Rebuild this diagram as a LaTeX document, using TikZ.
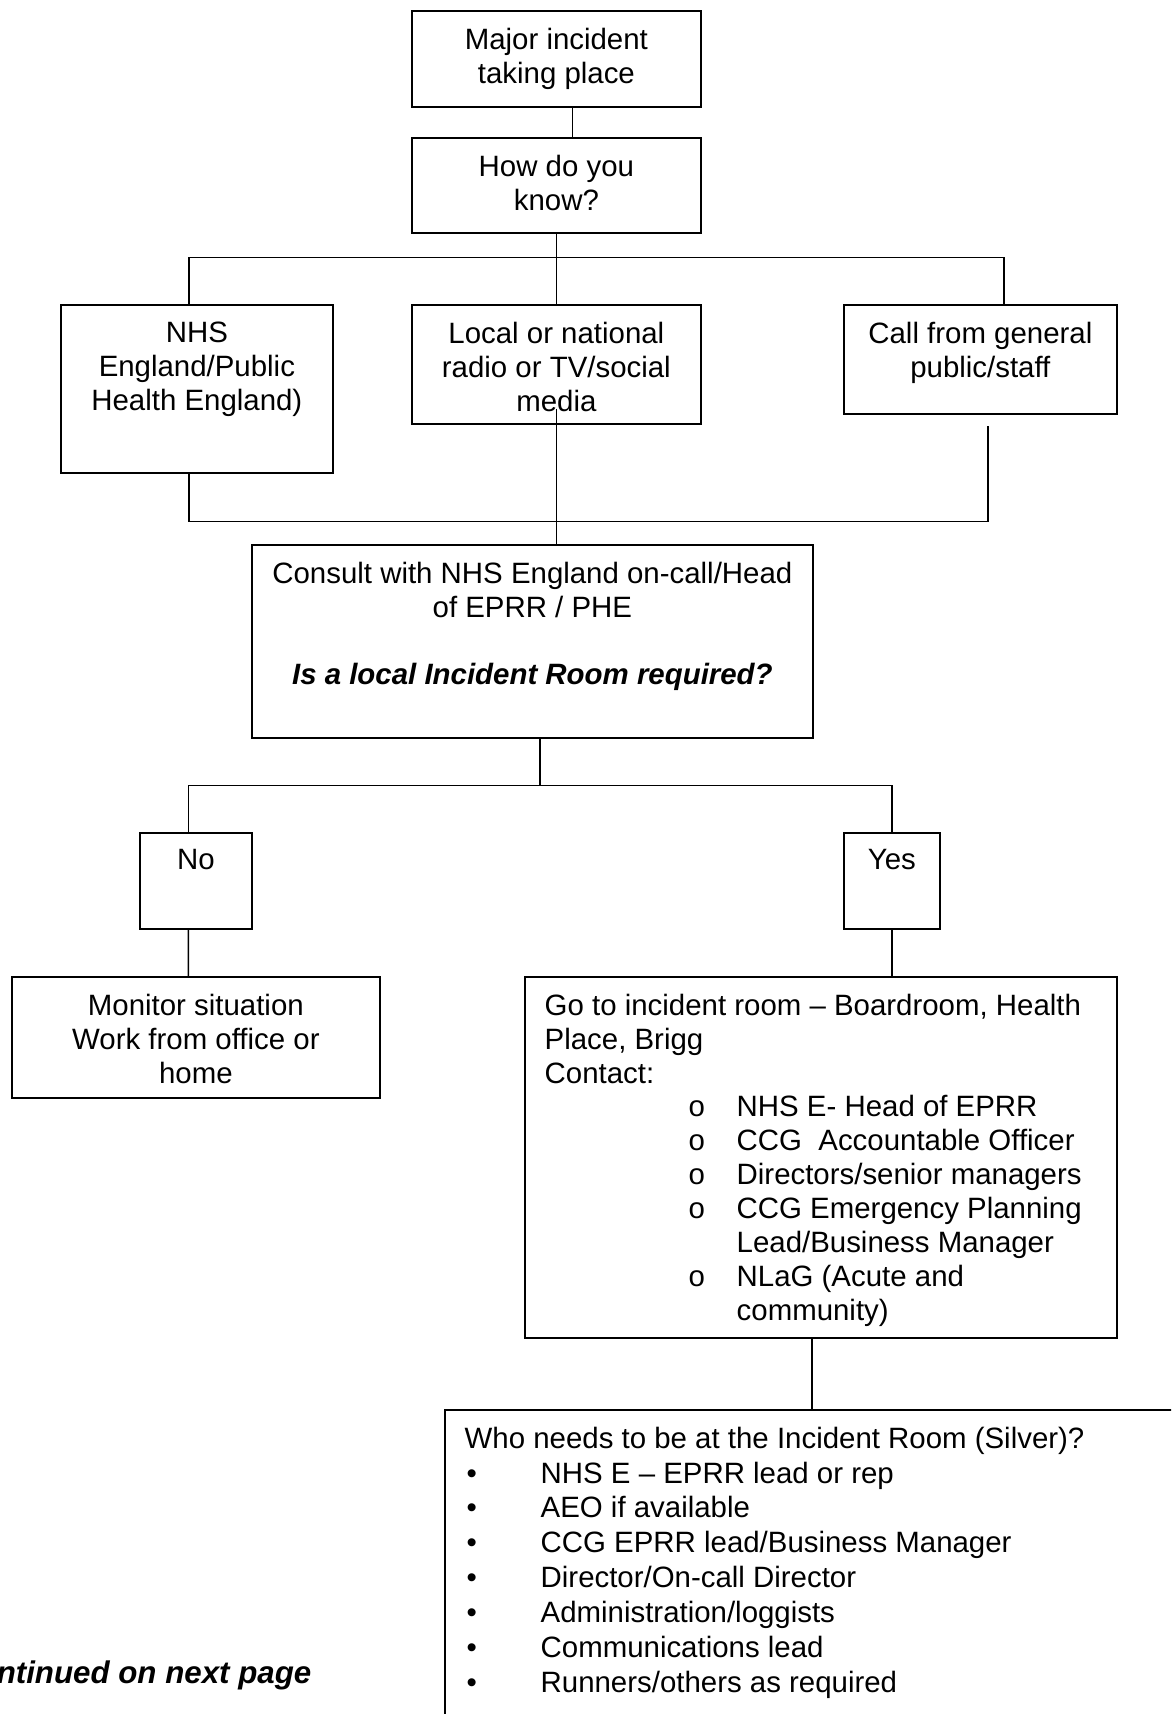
\documentclass[tikz,border=0pt]{standalone}
\usepackage{fontspec}
\setmainfont{Liberation Sans}

\tikzset{
  box/.style={draw, line width=0.5pt, anchor=north west, inner sep=0pt},
  txt/.style={anchor=north, inner sep=0pt, align=center},
  ltxt/.style={anchor=north west, inner sep=0pt, align=left},
  link/.style={line width=0.4pt},
}

\begin{document}
\begin{tikzpicture}[every node/.style={font=\fontsize{8.37}{9.67}\selectfont}]
				\path[use as bounding box, clip] (0,0) rectangle (11.71,-17.14);
				
				% Inizio: incidente e fonte
				\node[box, minimum width=2.89cm, minimum height=0.96cm] (major) at (4.11,-0.10) {};
				\node[txt] (major-t) at ([yshift=-0.17cm]major.north) {Major incident\\taking place};
				\node[box, minimum width=2.89cm, minimum height=0.95cm] (how) at (4.11,-1.37) {};
				\node[txt] (how-t) at ([yshift=-0.17cm]how.north) {How do you\\know?};
				
				% Tre canali
				\node[box, minimum width=2.72cm, minimum height=1.68cm] (nhs) at (0.60,-3.04) {};
				\node[txt] (nhs-t) at ([yshift=-0.17cm]nhs.north) {NHS\\England/Public\\Health England)};
				\node[box, minimum width=2.89cm, minimum height=1.19cm] (local) at (4.11,-3.04) {};
				\node[txt] (local-t) at ([yshift=-0.17cm]local.north) {Local or national\\radio or TV/social\\media};
				\node[box, minimum width=2.73cm, minimum height=1.09cm] (call) at (8.43,-3.04) {};
				\node[txt] (call-t) at ([yshift=-0.17cm]call.north) {Call from general\\public/staff};
				
				% Consultazione
				\node[box, minimum width=5.61cm, minimum height=1.93cm] (consult) at (2.51,-5.44) {};
				\node[txt] (consult-t) at ([yshift=-0.17cm]consult.north) {Consult with NHS England on-call/Head\\of EPRR / PHE\\[9.67pt]{\bfseries\itshape Is a local Incident Room required?}};
				
				% No / Yes
				\node[box, minimum width=1.12cm, minimum height=0.96cm] (no) at (1.39,-8.32) {};
				\node[txt] (no-t) at ([yshift=-0.17cm]no.north) {No};
				\node[box, minimum width=0.96cm, minimum height=0.96cm] (yes) at (8.43,-8.32) {};
				\node[txt] (yes-t) at ([yshift=-0.17cm]yes.north) {Yes};
				
				\node[box, minimum width=3.68cm, minimum height=1.21cm] (monitor) at (0.11,-9.76) {};
				\node[txt] (monitor-t) at ([yshift=-0.17cm]monitor.north) {Monitor situation\\Work from office or\\home};
				
				\node[box, minimum width=5.92cm, minimum height=3.61cm] (goto) at (5.24,-9.76) {};
				\node[ltxt] (goto-t) at ([xshift=0.20cm,yshift=-0.17cm]goto.north west) {Go to incident room -- Boardroom, Health\\Place, Brigg\\Contact:\\
					\hspace*{1.44cm}\makebox[0.48cm][l]{o}NHS E- Head of EPRR\\
					\hspace*{1.44cm}\makebox[0.48cm][l]{o}CCG\ \ Accountable Officer\\
					\hspace*{1.44cm}\makebox[0.48cm][l]{o}Directors/senior managers\\
					\hspace*{1.44cm}\makebox[0.48cm][l]{o}CCG Emergency Planning\\
					\hspace*{1.92cm}Lead/Business Manager\\
					\hspace*{1.44cm}\makebox[0.48cm][l]{o}NLaG (Acute and\\
					\hspace*{1.92cm}community)};
				
				% Chi serve in sala (Silver)
				\node[box, minimum width=8.0cm, minimum height=3.5cm] (who) at (4.44,-14.09) {};
				\node[ltxt, font=\fontsize{8.37}{9.95}\selectfont] (who-t) at ([xshift=0.20cm,yshift=-0.17cm]who.north west) {Who needs to be at the Incident Room (Silver)?\\
					\makebox[0.76cm][l]{\hspace*{0.02cm}\textbullet}NHS E -- EPRR lead or rep\\
					\makebox[0.76cm][l]{\hspace*{0.02cm}\textbullet}AEO if available\\
					\makebox[0.76cm][l]{\hspace*{0.02cm}\textbullet}CCG EPRR lead/Business Manager\\
					\makebox[0.76cm][l]{\hspace*{0.02cm}\textbullet}Director/On-call Director\\
					\makebox[0.76cm][l]{\hspace*{0.02cm}\textbullet}Administration/loggists\\
					\makebox[0.76cm][l]{\hspace*{0.02cm}\textbullet}Communications lead\\
					\makebox[0.76cm][l]{\hspace*{0.02cm}\textbullet}Runners/others as required};
				
				\node[anchor=base east, inner sep=0pt, font=\fontsize{8.9}{9.67}\selectfont\bfseries\itshape] (cont) at (3.12,-16.83) {ntinued on next page};
				
				% Collegamenti
				\draw[link] ([xshift=0.16cm]major.south) -- ([xshift=0.16cm]how.north);
				\draw[link] (how.south) -- (local.north);
				\draw[link] ([xshift=-0.08cm]nhs.north) |- ([yshift=-0.24cm]how.south) -| ([xshift=0.235cm]call.north);
				\coordinate (callend) at ([xshift=0.075cm,yshift=-0.11cm]call.south);
				\coordinate (mediaend) at ([yshift=0.16cm]local.south);
				\draw[link] ([xshift=-0.08cm]nhs.south) -- ++(0,-0.475) -| (callend);
				\draw[link] (mediaend) -- (mediaend |- consult.north);
				\draw[link] ([xshift=0.075cm]consult.south) -- ++(0,-0.47);
				\draw[link] ([xshift=-0.075cm]no.north) |- ([xshift=0.075cm,yshift=-0.47cm]consult.south) -| (yes.north);
				\draw[link] ([xshift=-0.075cm]no.south) -- ([xshift=-0.075cm]monitor.north);
				\draw[link] (yes.south) -- (yes.south |- goto.north);
				\coordinate (gotoend) at ([xshift=-0.09cm]goto.south);
				\draw[link] (gotoend) -- (gotoend |- who.north);
			\end{tikzpicture}
\end{document}
